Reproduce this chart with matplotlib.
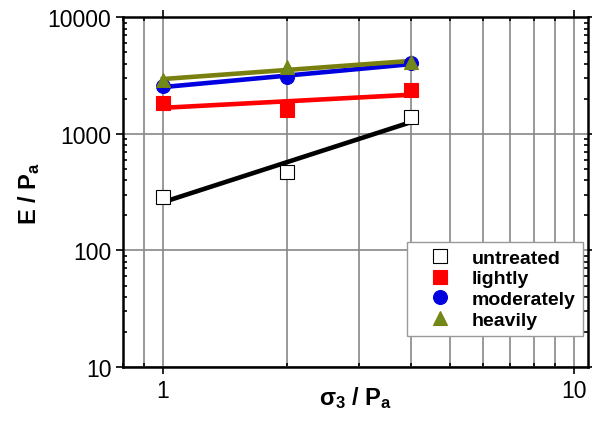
import numpy as np
import matplotlib.pyplot as plt
from matplotlib.ticker import LogLocator, NullFormatter, FixedLocator

plt.rcParams['font.family'] = ['Liberation Sans', 'DejaVu Sans']
plt.rcParams['mathtext.fontset'] = 'custom'
plt.rcParams['mathtext.rm'] = 'Liberation Sans'
plt.rcParams['mathtext.bf'] = 'Liberation Sans:bold'
plt.rcParams['mathtext.it'] = 'Liberation Sans:italic'

sigma3 = [1, 2, 4]
untreated = [286, 469, 1387]
lightly = [1828, 1592, 2366]
moderately = [2560, 3056, 4026]
heavily = [2876, 3724, 4110]

series = [
    ("untreated", untreated, "black", "s", "white"),
    ("lightly", lightly, "red", "s", "red"),
    ("moderately", moderately, "#0000e0", "o", "#0000e0"),
    ("heavily", heavily, "#7a8010", "^", "#6f8a1a"),
]

fig = plt.figure(figsize=(5.92, 4.35), dpi=100)
ax = fig.add_axes([0.208, 0.154, 0.785, 0.804])

lx = np.log10(sigma3)
for name, vals, col, mk, fc in series:
    ax.plot(sigma3, vals, linestyle="none", marker=mk, markersize=10,
            markerfacecolor=fc, markeredgecolor=col if fc != "white" else "black",
            markeredgewidth=0.8, label=name, zorder=3)
    p = np.polyfit(lx, np.log10(vals), 1)
    xf = np.array([sigma3[0], sigma3[-1]])
    ax.plot(xf, 10 ** np.polyval(p, np.log10(xf)), color=col, lw=3.3, zorder=2)

ax.set_xscale("log")
ax.set_yscale("log")
ax.set_xlim(0.8, 10.8)
ax.set_ylim(10, 10000)

ax.xaxis.set_major_locator(FixedLocator([1, 10]))
ax.xaxis.set_minor_locator(LogLocator(base=10, subs=np.arange(2, 10)))
ax.xaxis.set_minor_formatter(NullFormatter())
ax.set_xticklabels(["1", "10"])
ax.yaxis.set_major_locator(FixedLocator([10, 100, 1000, 10000]))
ax.set_yticklabels(["10", "100", "1000", "10000"])
ax.yaxis.set_minor_locator(LogLocator(base=10, subs=np.arange(2, 10)))
ax.yaxis.set_minor_formatter(NullFormatter())

ax.grid(True, which="major", axis="both", color="#888888", lw=1.2)
ax.grid(True, which="minor", axis="x", color="#888888", lw=1.2)

ax.tick_params(which="major", direction="out", length=5, width=1.2, labelsize=16.5,
               top=True, right=True)
ax.tick_params(which="minor", direction="in", length=3, width=1.2, top=True, right=True)
for s in ax.spines.values():
    s.set_linewidth(1.8)

ax.set_xlabel(r"$\mathbf{\sigma_3}$ / P$_\mathbf{a}$", fontsize=17, fontweight="bold")
ax.xaxis.set_label_coords(0.5, -0.05)
ax.set_ylabel(r"E / P$_\mathbf{a}$", fontsize=17, fontweight="bold")

leg = ax.legend(loc="lower right", bbox_to_anchor=(1.011, 0.06),
                prop={"weight": "bold", "size": 14}, fancybox=False,
                edgecolor="#999999", framealpha=1, handlelength=2.6,
                handletextpad=0.3, labelspacing=0.15, borderpad=0.4)

fig.savefig("out.png", dpi=100)
